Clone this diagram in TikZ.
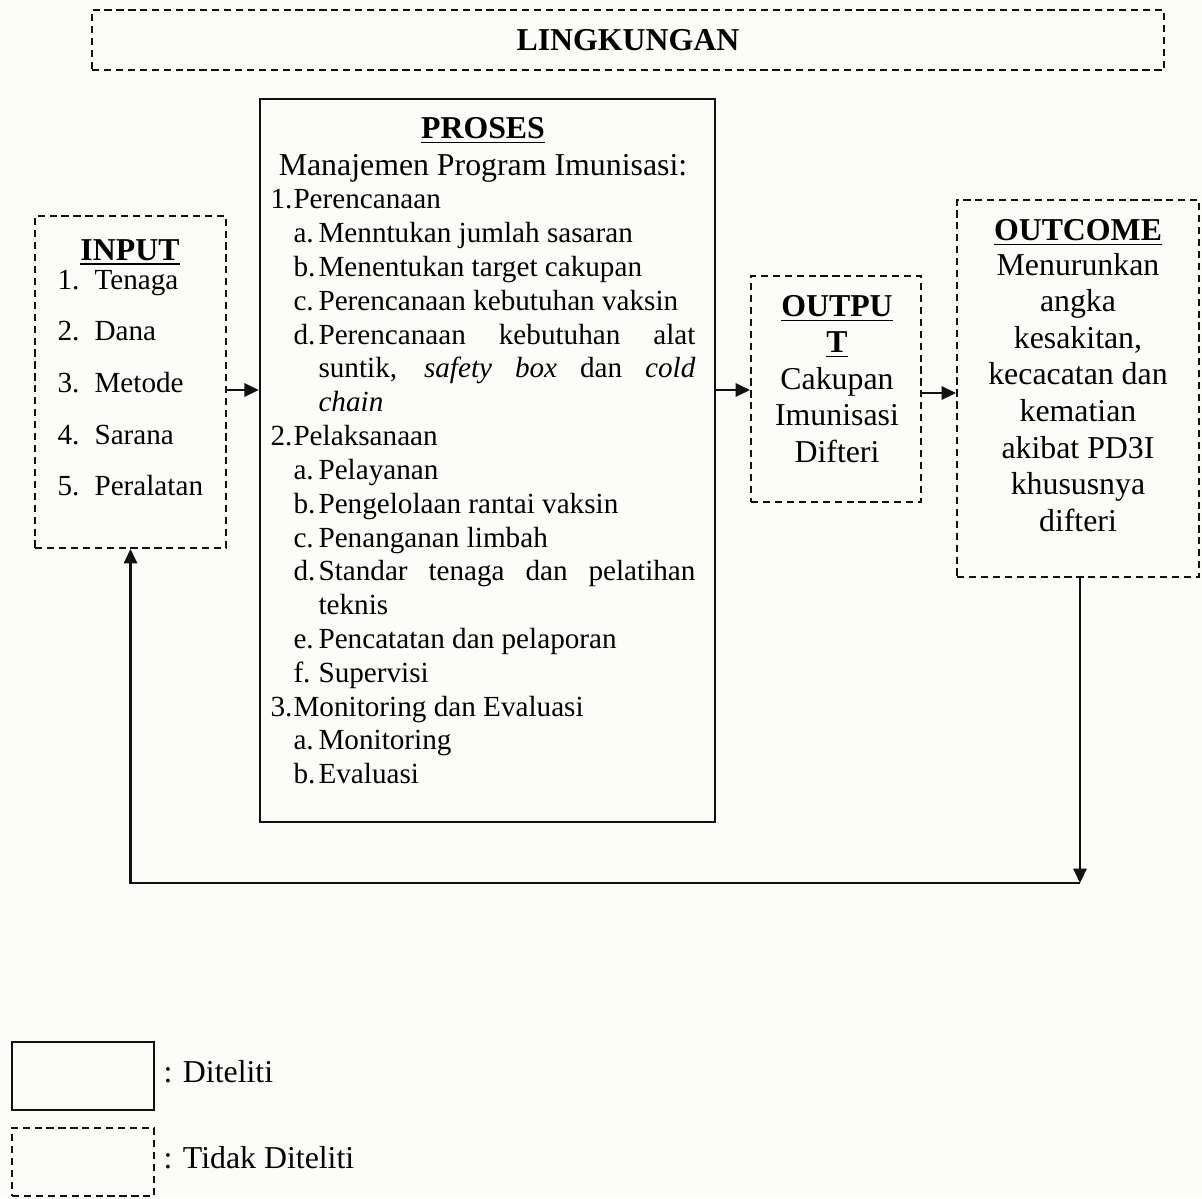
\documentclass[tikz,border=0pt]{standalone}
\usepackage{fontspec}
\setmainfont{Liberation Serif}
\usetikzlibrary{fit,arrows.meta}
\definecolor{bgcol}{RGB}{253,253,248}
\definecolor{ink}{RGB}{17,17,17}
\newcommand\lvone[2]{\par\noindent\makebox[8.67pt][l]{#1}#2\par}
\newcommand\lvtwo[2]{\par\hangindent=18.1pt\hangafter=1\noindent\hspace*{8.67pt}\makebox[9.43pt][l]{#1}#2\par}
\begin{document}
\begin{tikzpicture}[x=0.377pt,y=-0.377pt,
  dashbox/.style={draw=ink,line width=0.75pt,dash pattern=on 2.7pt off 1.8pt,inner sep=0pt},
  solidbox/.style={draw=ink,line width=0.9pt,inner sep=0pt},
  arr/.style={draw=ink,line width=0.8pt,-{Triangle[length=5.4pt,width=5pt]}},
  txt/.style={inner sep=0pt,anchor=base,text=black,font=\fontsize{12}{13.8}\selectfont}]
\fill[bgcol] (0,0) rectangle (1202,1198);
\useasboundingbox (0,0) rectangle (1202,1198);

% boxes
\node[dashbox,fit={(92,10) (1164,70)}] (ling) {};
\node[solidbox,fit={(260,99) (715,822)}] (proses) {};
\node[dashbox,fit={(35,216) (226,548)}] (input) {};
\node[dashbox,fit={(751,276) (921,502)}] (output) {};
\node[dashbox,fit={(957,200) (1199,577)}] (outcome) {};

% texts
\node[txt] (lingtxt) at (628,50) {\textbf{LINGKUNGAN}};

\node[txt] (inputtitle) at (130,260) {\textbf{\underline{INPUT}}};
\node[txt,anchor=base west] (inputlist) at (57,289) {\begin{minipage}[t]{60pt}\fontsize{11}{19.5}\selectfont
\makebox[13.95pt][l]{1.}Tenaga\\
\makebox[13.95pt][l]{2.}Dana\\
\makebox[13.95pt][l]{3.}Metode\\
\makebox[13.95pt][l]{4.}Sarana\\
\makebox[13.95pt][l]{5.}Peralatan\end{minipage}};

\node[txt,anchor=base west] (prosestxt) at (270,138) {\begin{minipage}[t]{160.2pt}\fontsize{12}{12.75}\selectfont
\tolerance=10000 \hyphenpenalty=10000 \parindent=0pt \parskip=0pt
{\centering\underline{\textbf{PROSES}}\par}
\vspace{1.2pt}
{\centering Manajemen Program Imunisasi:\par}
\fontsize{11}{12.75}\selectfont
\lvone{1.}{Perencanaan}
\lvtwo{a.}{Menntukan jumlah sasaran}
\lvtwo{b.}{Menentukan target cakupan}
\lvtwo{c.}{Perencanaan kebutuhan vaksin}
\lvtwo{d.}{Perencanaan kebutuhan alat\linebreak suntik, \textit{safety} \textit{box} dan \textit{cold}\linebreak \textit{chain}}
\lvone{2.}{Pelaksanaan}
\lvtwo{a.}{Pelayanan}
\lvtwo{b.}{Pengelolaan rantai vaksin}
\lvtwo{c.}{Penanganan limbah}
\lvtwo{d.}{Standar tenaga dan pelatihan\linebreak teknis}
\lvtwo{e.}{Pencatatan dan pelaporan}
\lvtwo{f.}{Supervisi}
\lvone{3.}{Monitoring dan Evaluasi}
\lvtwo{a.}{Monitoring}
\lvtwo{b.}{Evaluasi}
\end{minipage}};

\node[txt] (outputtxt) at (837,316) {\begin{minipage}[t]{56.5pt}\fontsize{12}{13.8}\selectfont\centering
\textbf{\underline{OUTPU}}\\
\textbf{\underline{T}}\\
Cakupan\\
Imunisasi\\
Difteri\end{minipage}};

\node[txt] (outcometxt) at (1078,240) {\begin{minipage}[t]{86.7pt}\fontsize{12}{13.8}\selectfont\centering
\textbf{\underline{OUTCOME}}\\[-0.6pt]
Menurunkan\\
angka\\
kesakitan,\\
kecacatan dan\\
kematian\\
akibat PD3I\\
khususnya\\
difteri\end{minipage}};

% connectors
\coordinate (r1) at (0,390);
\coordinate (r2) at (0,390);
\coordinate (r3) at (0,393);
\draw[arr] (input.east |- r1) -- (proses.west |- r1);
\draw[arr] (proses.east |- r2) -- (output.west |- r2);
\draw[arr] (output.east |- r3) -- (outcome.west |- r3);

\coordinate (fbR) at (1080,883);
\draw[arr] (outcome.south -| fbR) -- (fbR);
\draw[arr] (fbR) -- (input.south |- fbR) -- (input.south);

% legend
\node[solidbox,fit={(12,1042) (154,1110)}] (legsolid) {};
\node[dashbox,fit={(12,1128) (154,1196)}] (legdash) {};
\node[txt,anchor=base west] (legsolidtxt) at (163,1082) {: Diteliti};
\node[txt,anchor=base west] (legdashtxt) at (163,1168) {: Tidak Diteliti};
\end{tikzpicture}
\end{document}
